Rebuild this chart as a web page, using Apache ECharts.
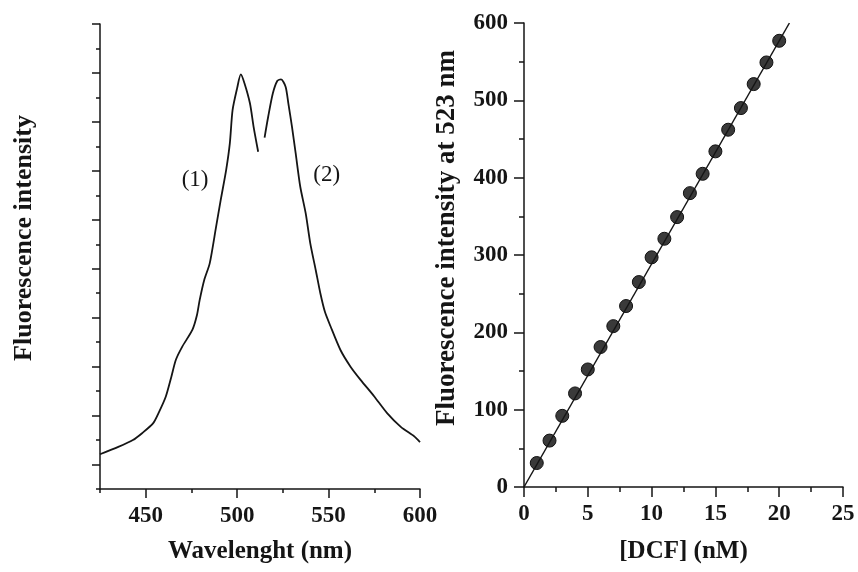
<!DOCTYPE html>
<html>
<head>
<meta charset="utf-8">
<script src="https://cdn.jsdelivr.net/npm/echarts@6/dist/echarts.min.js"></script>
<style>
html, body { margin: 0; padding: 0; background: #fff; }
#chart { width: 858px; height: 572px; }
</style>
</head>
<body>
<div id="chart"></div>
<script>
// 光谱 (1)  [波长 nm, 强度]
var spectrum1 = [[425, 71], [435, 86], [443, 100], [448, 114], [454, 134], [457, 155], [461, 189],
	[464, 229], [466.5, 264], [470, 291], [475.5, 325], [478, 355], [479.5, 386], [482, 427],
	[485, 461], [488.5, 536], [491, 590], [494, 652], [496, 706], [497.5, 774], [500, 819],
	[502, 847], [504, 829], [507, 788], [509, 740], [511.5, 689]];
// 光谱 (2)
var spectrum2 = [[515, 718], [517, 761], [519.5, 808], [522, 834], [524, 837], [526.5, 822],
	[528, 788], [530, 740], [532, 686], [534.5, 618], [537.5, 563], [540, 502], [543, 447],
	[545.5, 400], [548, 362], [551, 333], [556.5, 284], [562, 250], [567.5, 223], [575, 189],
	[582, 155], [589.5, 127], [597, 107], [600, 96]];

// 标定曲线
var dcfConc = [1, 2, 3, 4, 5, 6, 7, 8, 9, 10, 11, 12, 13, 14, 15, 16, 17, 18, 19, 20];
var dcfIntensity = [31, 60, 92, 121, 152, 181, 208, 234, 265, 297, 321, 349, 380, 405, 434, 462, 490, 521, 549, 577];
var fitLine = [[0, 0], [20.8, 600]];

var wlMajor = [450, 500, 550, 600];
var leftYMajor = [50, 150, 250, 350, 450, 550, 650, 750, 850, 950];

var chart = echarts.init(document.getElementById('chart'));

var serif = '"Liberation Serif", "DejaVu Serif", serif';
var ink = '#151515';
var tickLabel = { color: ink, fontFamily: serif, fontWeight: 'bold', fontSize: 23, margin: 16 };
var axisLine = { show: true, onZero: false, lineStyle: { color: ink, width: 1.5 } };

var scatterData = dcfConc.map(function (c, i) { return [c, dcfIntensity[i]]; });

var option = {
	backgroundColor: '#fff',
	animation: false,
	grid: [
		{ left: 100, top: 24, width: 320, height: 465 },
		{ left: 524, top: 23, right: 15, bottom: 85 }
	],
	xAxis: [{
		gridIndex: 0, type: 'value', position: 'bottom', min: 425, max: 600, interval: 25,
		axisLine: axisLine,
		axisTick: { show: true, length: 4, lineStyle: { color: ink, width: 1.5 } },
		axisLabel: Object.assign({}, tickLabel, {
			formatter: function (v) { return v % 50 === 0 ? String(v) : ''; }
		}),
		splitLine: { show: false },
		name: 'Wavelenght (nm)', nameLocation: 'middle', nameGap: 50,
		nameTextStyle: { color: ink, fontFamily: serif, fontWeight: 'bold', fontSize: 25 }
	}, {
		gridIndex: 0, type: 'value', position: 'bottom', min: 425, max: 600,
		axisLine: { show: false },
		axisTick: { show: true, length: 9, customValues: wlMajor, lineStyle: { color: ink, width: 1.5 } },
		axisLabel: { show: false },
		splitLine: { show: false }
	}, {
		gridIndex: 1, type: 'value', position: 'bottom', min: 0, max: 25, interval: 5,
		axisLine: axisLine,
		axisTick: { show: true, length: 10, lineStyle: { color: ink, width: 1.5 } },
		minorTick: { show: true, splitNumber: 2, length: 5, lineStyle: { color: ink, width: 1.5 } },
		axisLabel: tickLabel,
		splitLine: { show: false },
		name: '[DCF] (nM)', nameLocation: 'middle', nameGap: 52,
		nameTextStyle: { color: ink, fontFamily: serif, fontWeight: 'bold', fontSize: 25 }
	}],
	yAxis: [{
		gridIndex: 0, type: 'value', position: 'left', min: 0, max: 950, interval: 50,
		axisLine: axisLine,
		axisTick: { show: true, length: 4, lineStyle: { color: ink, width: 1.5 } },
		axisLabel: { show: false },
		splitLine: { show: false }
	}, {
		gridIndex: 0, type: 'value', position: 'left', min: 0, max: 950,
		axisLine: { show: false },
		axisTick: { show: true, length: 8, customValues: leftYMajor, lineStyle: { color: ink, width: 1.5 } },
		axisLabel: { show: false },
		splitLine: { show: false }
	}, {
		gridIndex: 1, type: 'value', position: 'left', min: 0, max: 600, interval: 100,
		axisLine: axisLine,
		axisTick: { show: true, length: 10, lineStyle: { color: ink, width: 1.5 } },
		minorTick: { show: true, splitNumber: 2, length: 5, lineStyle: { color: ink, width: 1.5 } },
		axisLabel: tickLabel,
		splitLine: { show: false }
	}],
	graphic: [{
		type: 'text', x: 24, y: 238, rotation: Math.PI / 2,
		style: {
			text: 'Fluorescence intensity', fill: ink, textAlign: 'center', verticalAlign: 'middle',
			font: 'bold 26px ' + serif
		}
	}, {
		type: 'text', x: 447, y: 238, rotation: Math.PI / 2,
		style: {
			text: 'Fluorescence intensity at 523 nm', fill: ink, textAlign: 'center', verticalAlign: 'middle',
			font: 'bold 27px ' + serif
		}
	}],
	series: [{
		name: '(1)', type: 'line', xAxisIndex: 0, yAxisIndex: 0,
		data: spectrum1, showSymbol: false, smooth: 0.25,
		lineStyle: { color: ink, width: 1.8 },
		markPoint: {
			symbol: 'circle', symbolSize: 1, itemStyle: { color: 'transparent' },
			label: { show: true, position: 'inside', formatter: '(1)', color: ink, fontFamily: serif, fontSize: 23 },
			data: [{ coord: [477, 631] }]
		}
	}, {
		name: '(2)', type: 'line', xAxisIndex: 0, yAxisIndex: 0,
		data: spectrum2, showSymbol: false, smooth: 0.25,
		lineStyle: { color: ink, width: 1.8 },
		markPoint: {
			symbol: 'circle', symbolSize: 1, itemStyle: { color: 'transparent' },
			label: { show: true, position: 'inside', formatter: '(2)', color: ink, fontFamily: serif, fontSize: 23 },
			data: [{ coord: [549, 641] }]
		}
	}, {
		type: 'scatter', xAxisIndex: 2, yAxisIndex: 2,
		data: scatterData, symbol: 'circle', symbolSize: 13,
		itemStyle: { color: '#3a3a3a', borderColor: '#111', borderWidth: 1, opacity: 1 }
	}, {
		type: 'line', xAxisIndex: 2, yAxisIndex: 2,
		data: fitLine, showSymbol: false,
		lineStyle: { color: ink, width: 1.5 }, z: 3
	}]
};

chart.setOption(option);
</script>
</body>
</html>
